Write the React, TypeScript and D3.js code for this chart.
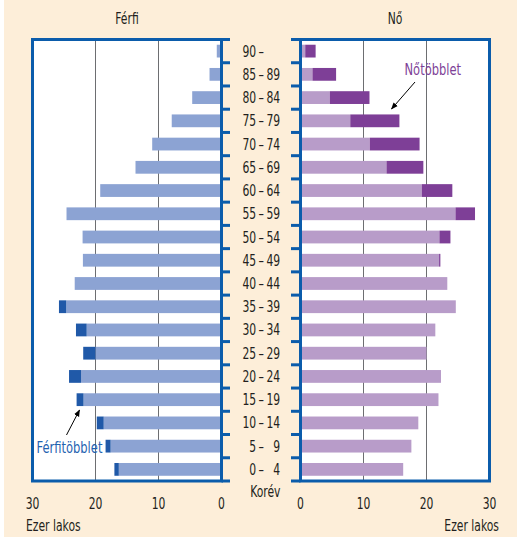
import React from "react";
import * as d3 from "d3";

const ageLow = ["0", "5", "10", "15", "20", "25", "30", "35", "40", "45", "50", "55", "60", "65", "70", "75", "80", "85", "90"];
const ageHigh = ["4", "9", "14", "19", "24", "29", "34", "39", "44", "49", "54", "59", "64", "69", "74", "79", "84", "89", ""];
const male = [17.0, 18.4, 19.8, 23.0, 24.2, 21.95, 23.1, 25.8, 23.3, 22.0, 22.05, 24.6, 19.25, 13.65, 11.0, 7.9, 4.65, 1.9, 0.75];
const female = [16.3, 17.6, 18.7, 21.9, 22.3, 20.0, 21.4, 24.65, 23.3, 22.2, 23.8, 27.7, 24.1, 19.5, 18.9, 15.7, 10.95, 5.65, 2.4];
const xTicks = [0, 10, 20, 30];
const gridTicks = [10, 20];

const FONT = "'DejaVu Sans Condensed', 'Liberation Sans Narrow', sans-serif";
const BG = "#fdeed9";
const FRAME = "#0b5cab";
const M_LIGHT = "#8ca3d3";
const M_DARK = "#2059a8";
const F_LIGHT = "#b89cc9";
const F_DARK = "#7e3f97";
const TEXT = "#231f20";
const SX = 0.8;
const FIG = "\u2007";

type TProps = {
  x: number;
  y: number;
  anchor?: "start" | "middle" | "end";
  size?: number;
  fill?: string;
  children: React.ReactNode;
};

function T({ x, y, anchor = "start", size = 15, fill = TEXT, children }: TProps) {
  return (
    <text
      transform={`translate(${x},${y}) scale(${SX},1)`}
      textAnchor={anchor}
      fontSize={size}
      fill={fill}
    >
      {children}
    </text>
  );
}

const pad2 = (s: string) => (s.length < 2 ? FIG + s : s);

export default function App() {
  const top = 39.5;
  const bottom = 481;
  const y = d3
    .scaleBand<string>()
    .domain(ageLow.slice().reverse())
    .range([top, bottom])
    .paddingInner(0.45)
    .paddingOuter(0.225);
  const step = y.step();
  const xL = d3.scaleLinear().domain([0, 30]).range([221.5, 32.5]);
  const xR = d3.scaleLinear().domain([0, 30]).range([300.5, 489.5]);
  const boundaries = d3.range(0, ageLow.length + 1).map((i) => top + i * step);
  const sw = 3;

  return (
    <svg
      width={517}
      height={547}
      style={{ position: "absolute", left: 0, top: 0, fontFamily: FONT }}
    >
      <defs>
        <marker id="ah" viewBox="0 0 10 10" refX="9" refY="5" markerWidth="7" markerHeight="7" orient="auto">
          <path d="M0,1 L10,5 L0,9 z" fill="#000" />
        </marker>
      </defs>
      <rect x={0} y={0} width={517} height={547} fill="#fff" />
      <rect x={4} y={0} width={513} height={537} fill={BG} />

      {/* Panel backgrounds */}
      <rect x={xL(30)} y={top} width={xL(0) - xL(30)} height={bottom - top} fill="#fff" />
      <rect x={xR(0)} y={top} width={xR(30) - xR(0)} height={bottom - top} fill="#fff" />

      {/* Grid lines */}
      {gridTicks.map((t) => (
        <g key={"g" + t}>
          <line x1={xL(t)} x2={xL(t)} y1={top} y2={bottom} stroke="#6d6e71" strokeWidth={1} />
          <line x1={xR(t)} x2={xR(t)} y1={top} y2={bottom} stroke="#6d6e71" strokeWidth={1} />
        </g>
      ))}

      {/* Bars */}
      {ageLow.map((a, i) => {
        const m = male[i];
        const f = female[i];
        const base = Math.min(m, f);
        const yy = y(a)!;
        const h = y.bandwidth();
        return (
          <g key={"b" + a}>
            <rect x={xL(base)} y={yy} width={xL(0) - xL(base)} height={h} fill={M_LIGHT} />
            {m > f && <rect x={xL(m)} y={yy} width={xL(base) - xL(m)} height={h} fill={M_DARK} />}
            <rect x={xR(0)} y={yy} width={xR(base) - xR(0)} height={h} fill={F_LIGHT} />
            {f > m && <rect x={xR(base)} y={yy} width={xR(f) - xR(base)} height={h} fill={F_DARK} />}
          </g>
        );
      })}

      {/* Frames */}
      <rect x={xL(30)} y={top} width={xL(0) - xL(30)} height={bottom - top} fill="none" stroke={FRAME} strokeWidth={sw} />
      <rect x={xR(0)} y={top} width={xR(30) - xR(0)} height={bottom - top} fill="none" stroke={FRAME} strokeWidth={sw} />
      {boundaries.map((b, i) => (
        <g key={"t" + i}>
          <line x1={xL(0)} x2={230} y1={b} y2={b} stroke={FRAME} strokeWidth={sw} />
          <line x1={291} x2={xR(0)} y1={b} y2={b} stroke={FRAME} strokeWidth={sw} />
        </g>
      ))}

      {/* Age labels */}
      {ageLow.map((a, i) => {
        const cy = y(a)! + y.bandwidth() / 2 + 5.5;
        return (
          <T key={"l" + a} x={242.5} y={cy}>
            <tspan>{pad2(a)}</tspan>
            <tspan dx={3}>–</tspan>
            {ageHigh[i] !== "" && <tspan dx={3}>{pad2(ageHigh[i])}</tspan>}
          </T>
        );
      })}
      <T x={280.5} y={497} anchor="end">Korév</T>

      {/* Titles */}
      <T x={(xL(0) + xL(30)) / 2} y={24} anchor="middle">Férfi</T>
      <T x={(xR(0) + xR(30)) / 2} y={24} anchor="middle">Nő</T>

      {/* X tick labels */}
      {xTicks.map((t) => (
        <g key={"x" + t}>
          <T x={xL(t)} y={509} anchor="middle">{t}</T>
          <T x={xR(t)} y={509} anchor="middle">{t}</T>
        </g>
      ))}
      <T x={26} y={531}>Ezer lakos</T>
      <T x={499} y={531} anchor="end">Ezer lakos</T>

      {/* Annotations */}
      <T x={36.5} y={452.5} size={16} fill="#1f62b0">Férfitöbblet</T>
      <line x1={66.5} y1={435} x2={79.5} y2={410} stroke="#000" strokeWidth={1} markerEnd="url(#ah)" />
      <T x={404.5} y={75} size={16} fill={F_DARK}>Nőtöbblet</T>
      <line x1={415} y1={82} x2={391.5} y2={109} stroke="#000" strokeWidth={1} markerEnd="url(#ah)" />
    </svg>
  );
}
